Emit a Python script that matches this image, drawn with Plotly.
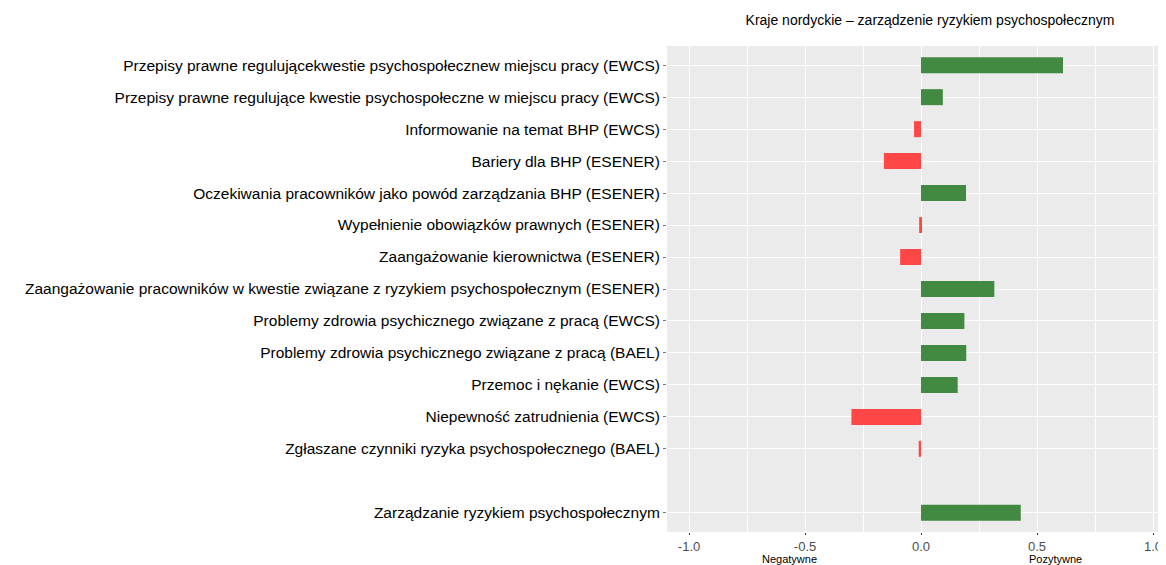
import plotly.graph_objects as go

categories = [
    "Przepisy prawne regulującekwestie psychospołecznew miejscu pracy (EWCS)",
    "Przepisy prawne regulujące kwestie psychospołeczne w miejscu pracy (EWCS)",
    "Informowanie na temat BHP (EWCS)",
    "Bariery dla BHP (ESENER)",
    "Oczekiwania pracowników jako powód zarządzania BHP (ESENER)",
    "Wypełnienie obowiązków prawnych (ESENER)",
    "Zaangażowanie kierownictwa (ESENER)",
    "Zaangażowanie pracowników w kwestie związane z ryzykiem psychospołecznym (ESENER)",
    "Problemy zdrowia psychicznego związane z pracą (EWCS)",
    "Problemy zdrowia psychicznego związane z pracą (BAEL)",
    "Przemoc i nękanie (EWCS)",
    "Niepewność zatrudnienia (EWCS)",
    "Zgłaszane czynniki ryzyka psychospołecznego (BAEL)",
    " ",
    "Zarządzanie ryzykiem psychospołecznym",
]
values = [0.612, 0.094, -0.03, -0.16, 0.194, -0.008, -0.09, 0.316, 0.187, 0.195,
          0.158, -0.30, -0.01, None, 0.43]
x_ticks = [-1.0, -0.5, 0.0, 0.5, 1.0]
x_tick_labels = ["-1.0", "-0.5", "0.0", "0.5", "1.0"]
title_text = "Kraje nordyckie – zarządzenie ryzykiem psychospołecznym"
neg_label = "Negatywne"
pos_label = "Pozytywne"

GREEN = "#428A42"
RED = "#FF4646"
colors = [(GREEN if (v is not None and v >= 0) else RED) for v in values]

fig = go.Figure(go.Bar(
    x=values, y=categories, orientation="h", width=0.5,
    marker=dict(color=colors, line=dict(width=0)),
    hoverinfo="x+y",
))

label_cats = [c for c in categories if c.strip()]

fig.update_layout(
    width=1158, height=557,
    margin=dict(l=659, r=0, t=38, b=33),
    paper_bgcolor="white", plot_bgcolor="#EBEBEB",
    showlegend=False,
    font=dict(family="Liberation Sans, Arial, sans-serif", color="black"),
    title=dict(text=title_text, x=0.527, xref="paper", xanchor="center",
               y=0.978, yref="container", yanchor="middle",
               font=dict(size=14, color="black")),
    xaxis=dict(range=[-1.095, 1.056], tickvals=x_ticks, ticktext=x_tick_labels,
               automargin=False,
               showgrid=True, gridcolor="white", gridwidth=1.3,
               minor=dict(dtick=0.25, showgrid=True, gridcolor="white", gridwidth=0.6, tick0=0),
               zeroline=False, ticks="outside", ticklen=2, tickcolor="#333333",
               tickfont=dict(size=13, color="#4D4D4D"), showline=False),
    yaxis=dict(type="category", categoryorder="array", categoryarray=categories,
               automargin=False,
               range=[len(categories) - 0.4, -0.6],
               tickmode="array", tickvals=label_cats, ticktext=label_cats,
               showgrid=True, gridcolor="white", gridwidth=1.3,
               ticks="outside", ticklen=3, tickcolor="#777777",
               tickfont=dict(size=15.5, color="black"), zeroline=False),
    annotations=[
        dict(text=neg_label, x=-0.565, xref="x", y=-0.056, yref="paper",
             showarrow=False, font=dict(size=11, color="black"), yanchor="middle"),
        dict(text=pos_label, x=0.578, xref="x", y=-0.056, yref="paper",
             showarrow=False, font=dict(size=11, color="black"), yanchor="middle"),
    ],
)

fig.write_html("out.html")
